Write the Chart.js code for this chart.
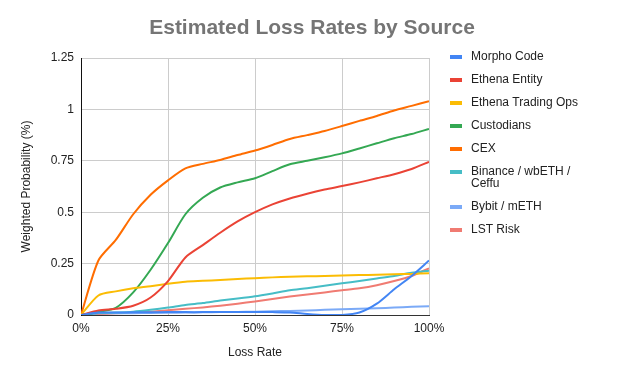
<!DOCTYPE html>
<html>
<head>
<meta charset="utf-8">
<script src="https://cdn.jsdelivr.net/npm/chart.js@4.4.1/dist/chart.umd.min.js"></script>
<style>
  html, body { margin: 0; padding: 0; background: #fff; }
  #wrap { width: 624px; height: 385px; }
</style>
</head>
<body>
<div id="wrap"><canvas id="lossChart" width="624" height="385"></canvas></div>
<script>
// Data (loss rate in %, weighted probability in %)
const lossRates = [0, 5, 10, 15, 20, 25, 30, 35, 40, 45, 50, 55, 60, 65, 70, 75, 80, 85, 90, 95, 100];
const morphoCode = [0, 0.012, 0.012, 0.013, 0.013, 0.014, 0.014, 0.014, 0.015, 0.015, 0.015, 0.014, 0.012, 0.005, 0, 0, 0.012, 0.055, 0.125, 0.19, 0.265];
const ethenaEntity = [0, 0.022, 0.03, 0.045, 0.085, 0.165, 0.28, 0.34, 0.4, 0.455, 0.5, 0.538, 0.567, 0.59, 0.61, 0.627, 0.645, 0.665, 0.685, 0.71, 0.745];
const ethenaTradingOps = [0, 0.095, 0.115, 0.13, 0.14, 0.152, 0.162, 0.166, 0.17, 0.175, 0.179, 0.183, 0.186, 0.188, 0.19, 0.192, 0.194, 0.196, 0.198, 0.2, 0.203];
const custodians = [0, 0.015, 0.035, 0.11, 0.22, 0.35, 0.49, 0.57, 0.62, 0.645, 0.665, 0.7, 0.733, 0.75, 0.767, 0.786, 0.81, 0.835, 0.86, 0.88, 0.905];
const cex = [0, 0.265, 0.365, 0.49, 0.585, 0.655, 0.713, 0.735, 0.754, 0.778, 0.8, 0.827, 0.856, 0.875, 0.895, 0.919, 0.944, 0.968, 0.995, 1.017, 1.04];
const binanceCeffu = [0, 0.01, 0.012, 0.016, 0.025, 0.036, 0.049, 0.058, 0.07, 0.08, 0.091, 0.105, 0.12, 0.13, 0.142, 0.154, 0.165, 0.178, 0.19, 0.205, 0.215];
const bybitMeth = [0, 0.008, 0.008, 0.009, 0.01, 0.011, 0.012, 0.013, 0.014, 0.015, 0.016, 0.018, 0.02, 0.022, 0.025, 0.028, 0.03, 0.033, 0.036, 0.04, 0.043];
const lstRisk = [0, 0.005, 0.008, 0.011, 0.016, 0.023, 0.03, 0.037, 0.045, 0.055, 0.066, 0.078, 0.09, 0.1, 0.11, 0.12, 0.13, 0.145, 0.165, 0.19, 0.227];

const seriesNames = ['Morpho Code', 'Ethena Entity', 'Ethena Trading Ops', 'Custodians', 'CEX', ['Binance / wbETH /', 'Ceffu'], 'Bybit / mETH', 'LST Risk'];
const seriesValues = [morphoCode, ethenaEntity, ethenaTradingOps, custodians, cex, binanceCeffu, bybitMeth, lstRisk];
const seriesColors = ['#4285F4', '#EA4335', '#FBBC04', '#34A853', '#FF6D01', '#46BDC6', '#7BAAF7', '#F07B72'];

const xTicks = [0, 25, 50, 75, 100];
const yTicks = [0, 0.25, 0.5, 0.75, 1, 1.25];

const FONT = 'Arial, "Liberation Sans", sans-serif';

const datasets = seriesValues.map((vals, i) => ({
  label: Array.isArray(seriesNames[i]) ? seriesNames[i].join(' ') : seriesNames[i],
  data: vals.map((v, j) => ({ x: lossRates[j], y: v })),
  borderColor: seriesColors[i],
  backgroundColor: seriesColors[i],
  borderWidth: 2,
  pointRadius: 0,
  tension: 0.25,
  fill: false
}));

// title + legend drawn by hand, Google Sheets style
const decorPlugin = {
  id: 'decor',
  afterDraw(chart) {
    const c = chart.ctx;
    c.save();
    c.fillStyle = '#757575';
    c.font = 'bold 21px ' + FONT;
    c.textAlign = 'center';
    c.textBaseline = 'middle';
    c.fillText('Estimated Loss Rates by Source', 312, 28);

    c.font = '12px ' + FONT;
    c.textAlign = 'left';
    let y = 57;
    seriesNames.forEach((name, i) => {
      c.fillStyle = seriesColors[i];
      c.fillRect(450, y - 2, 12, 4);
      c.fillStyle = '#222';
      const lines = Array.isArray(name) ? name : [name];
      lines.forEach((ln, k) => c.fillText(ln, 471, y + k * 12));
      y += 23 + (lines.length - 1) * 12;
    });
    c.restore();
  }
};

const ctx = document.getElementById('lossChart').getContext('2d');
const chart = new Chart(ctx, {
  type: 'line',
  data: { datasets },
  options: {
    responsive: false,
    animation: false,
    layout: { padding: { left: 19, right: 195, top: 58, bottom: 25 } },
    plugins: { legend: { display: false }, tooltip: { enabled: false } },
    scales: {
      x: {
        type: 'linear',
        min: 0,
        max: 100,
        afterBuildTicks(scale) { scale.ticks = xTicks.map(v => ({ value: v })); },
        afterFit(scale) { scale.height = 385 - 315 - 25; },
        ticks: { callback: v => v + '%', color: '#222', font: { family: FONT, size: 12 }, padding: 6, maxRotation: 0 },
        grid: { color: '#cccccc', drawTicks: false },
        border: { color: '#333', width: 1 },
        title: { display: true, text: 'Loss Rate', color: '#222', font: { family: FONT, size: 12 }, padding: 0 }
      },
      y: {
        min: 0,
        max: 1.25,
        afterBuildTicks(scale) { scale.ticks = yTicks.map(v => ({ value: v })); },
        afterFit(scale) { scale.width = 81 - 19; },
        ticks: { callback: v => String(v), color: '#222', font: { family: FONT, size: 12 }, padding: 7 },
        grid: { color: '#cccccc', drawTicks: false },
        border: { color: '#111', width: 1 },
        title: { display: true, text: 'Weighted Probability (%)', color: '#222', font: { family: FONT, size: 12 }, padding: 0 }
      }
    }
  },
  plugins: [decorPlugin]
});
</script>
</body>
</html>
